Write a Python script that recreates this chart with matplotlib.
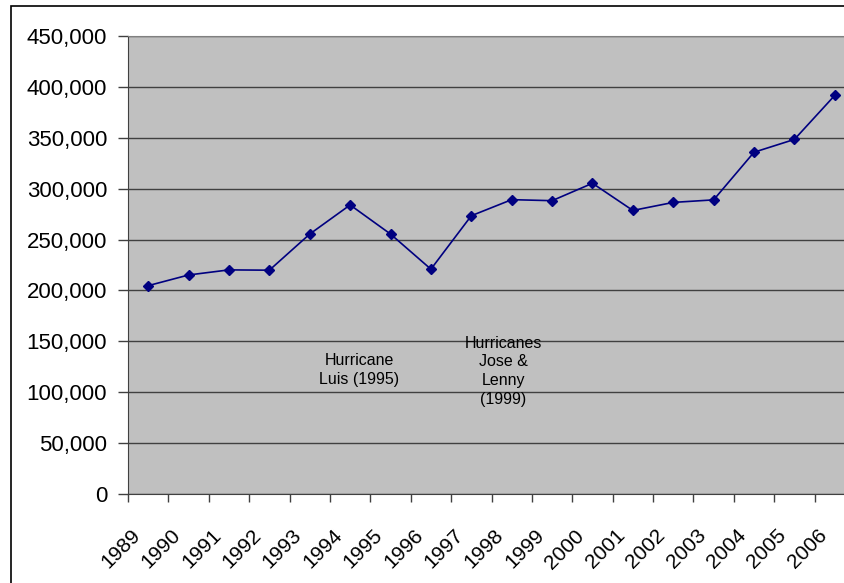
import numpy as np
import matplotlib.pyplot as plt
from matplotlib.patches import Rectangle
from matplotlib.ticker import FuncFormatter
from matplotlib.transforms import ScaledTranslation

plt.rcParams['font.family'] = ['Liberation Sans', 'DejaVu Sans']

years = ['1989', '1990', '1991', '1992', '1993', '1994', '1995', '1996', '1997',
         '1998', '1999', '2000', '2001', '2002', '2003', '2004', '2005', '2006']
visitors = [204700, 215200, 220200, 219900, 255400, 284000, 255400, 220900, 273400,
            289200, 288200, 305300, 278600, 286500, 289000, 335800, 348400, 391700]

notes = ['Hurricane\nLuis (1995)', 'Hurricanes\nJose &\nLenny\n(1999)']
note_x = [5.22, 8.79]
note_y = [121600, 120600]

fig = plt.figure(figsize=(8.44, 5.83), dpi=100)

# chart border, runs off the right and bottom edges
fig.patches.append(Rectangle((11 / 844, -0.05), 1.0, (583 - 6) / 583 + 0.05,
                             transform=fig.transFigure, fill=False,
                             edgecolor='black', linewidth=1.2))

ax = fig.add_axes([128 / 844, (583 - 494) / 583, 727 / 844, 458 / 583])
ax.set_facecolor('#C0C0C0')

x = np.arange(len(years))
ax.plot(x, visitors, color='#000080', linewidth=1.2, marker='D',
        markersize=5.5, zorder=3)

ax.set_xlim(-0.5, len(years) - 0.5)
ax.set_ylim(0, 450000)
ax.set_yticks(np.arange(0, 450001, 50000))
ax.yaxis.set_major_formatter(FuncFormatter(lambda v, p: f'{int(v):,}'))
ax.grid(axis='y', color='#404040', linewidth=1.0)
ax.set_axisbelow(True)

# category boundaries get tick marks, labels sit in between
ax.set_xticks(np.arange(-0.5, len(years)), minor=True)
ax.set_xticks(x)
ax.set_xticklabels(years, rotation=45, ha='right', va='center',
                   rotation_mode='anchor')
ax.tick_params(axis='x', which='major', length=0, pad=22, labelsize=15)
ax.tick_params(axis='x', which='minor', length=6, width=1, color='#404040')
ax.tick_params(axis='y', length=7, width=1, color='#404040', labelsize=16, pad=8)

shift = ScaledTranslation(-0.11, -0.08, fig.dpi_scale_trans)
for lab in ax.get_xticklabels():
    lab.set_transform(lab.get_transform() + shift)

for side in ['top', 'right']:
    ax.spines[side].set_color('#808080')
for side in ['left', 'bottom']:
    ax.spines[side].set_color('#404040')

for txt, nx, ny in zip(notes, note_x, note_y):
    ax.text(nx, ny, txt, ha='center', va='center', fontsize=11.5,
            linespacing=1.3, zorder=4)

fig.savefig('out.png', dpi=100)
